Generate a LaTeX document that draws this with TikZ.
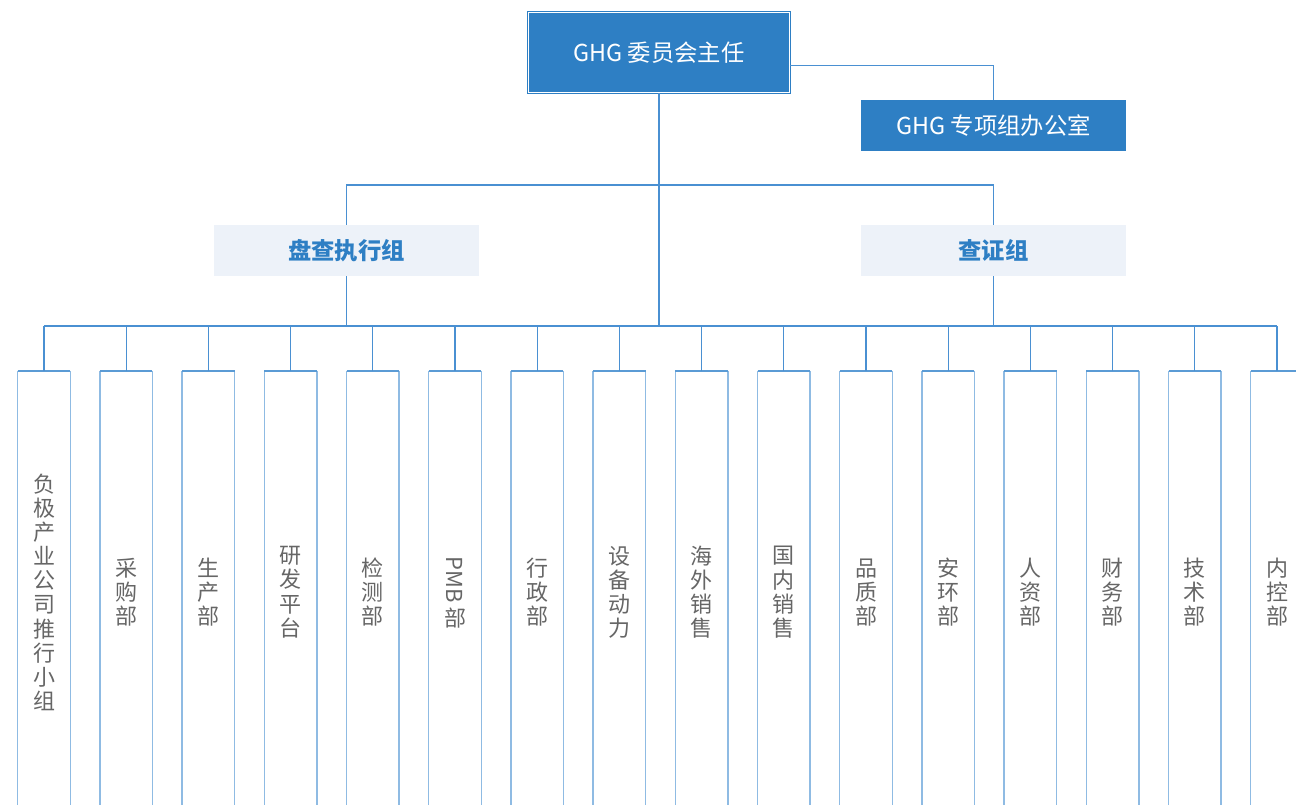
\documentclass[tikz,border=0pt]{standalone}
\usepackage{fontspec}
\usepackage{graphicx}
\setmainfont{Noto Sans CJK SC}
\usetikzlibrary{calc}
\definecolor{mainblue}{HTML}{2E7FC4}
\definecolor{linec}{HTML}{4A90D2}
\definecolor{sidec}{HTML}{8FBBE3}
\definecolor{topc}{HTML}{5B9BD5}
\definecolor{lightfill}{HTML}{EDF2F9}
\definecolor{graytext}{HTML}{666666}
\begin{document}
\begin{tikzpicture}[x=0.75pt,y=-0.75pt,
 chairbox/.style={fill=mainblue,draw=mainblue,double=white,double distance=0.75pt,line width=0.9pt,minimum width=195.5pt,minimum height=59.7pt,inner sep=0pt,text=white,font=\fontsize{17.5}{20}\selectfont},
 officebox/.style={fill=mainblue,minimum width=198.75pt,minimum height=38.25pt,inner sep=0pt,text=white,font=\fontsize{17.5}{20}\selectfont},
 groupbox/.style={fill=lightfill,minimum width=198.75pt,minimum height=38.25pt,inner sep=0pt,text=mainblue,font=\fontsize{17.5}{20}\selectfont\bfseries},
 colbox/.style={minimum width=39pt,minimum height=331.5pt,inner sep=0pt,anchor=north,align=center,text=graytext,font=\fontsize{16.5}{18.1}\selectfont},
 conn/.style={draw=linec,line width=0.8pt},
 side/.style={draw=sidec,line width=1.1pt},
 topedge/.style={draw=topc,line width=1.1pt},
]
\useasboundingbox (0,0) rectangle (1296,805);
\clip (0,0) rectangle (1296,805);

\node[chairbox] (chair) at (659,52.5) {GHG 委员会主任};
\node[officebox] (office) at (993.5,125.5) {GHG 专项组办公室};
\node[groupbox] (g1) at (346.5,250.5) {盘查执行组};
\node[groupbox] (g2) at (993.5,250.5) {查证组};

\coordinate (hub) at (659,185);
\coordinate (bus) at (659,326);

\foreach \t [count=\i] in {
 {负\\极\\产\\业\\公\\司\\推\\行\\小\\组},
 {采\\购\\部},
 {生\\产\\部},
 {研\\发\\平\\台},
 {检\\测\\部},
 {\rotatebox{-90}{PMB}\\[3pt]部},
 {行\\政\\部},
 {设\\备\\动\\力},
 {海\\外\\销\\售},
 {国\\内\\销\\售},
 {品\\质\\部},
 {安\\环\\部},
 {人\\资\\部},
 {财\\务\\部},
 {技\\术\\部},
 {内\\控\\部}} {
 \node[colbox] (c\i) at ({44+82.2*(\i-1)},371) {\t};
 \draw[side] (c\i.south west) -- (c\i.north west);
 \draw[side] (c\i.north east) -- (c\i.south east);
 \draw[topedge] (c\i.north west) -- (c\i.north east);
 \draw[conn] (c\i.north) -- (c\i.north |- bus);
}

\draw[conn] ([yshift=-10.1pt]chair.east) -| (office.north);
\draw[conn] (chair.south) -- (bus);
\draw[conn] (g1.north) |- (hub) -| (g2.north);
\draw[conn] (g1.south) -- (g1.south |- bus);
\draw[conn] (g2.south) -- (g2.south |- bus);
\draw[conn] (c1.north |- bus) -- (c16.north |- bus);
\end{tikzpicture}
\end{document}
